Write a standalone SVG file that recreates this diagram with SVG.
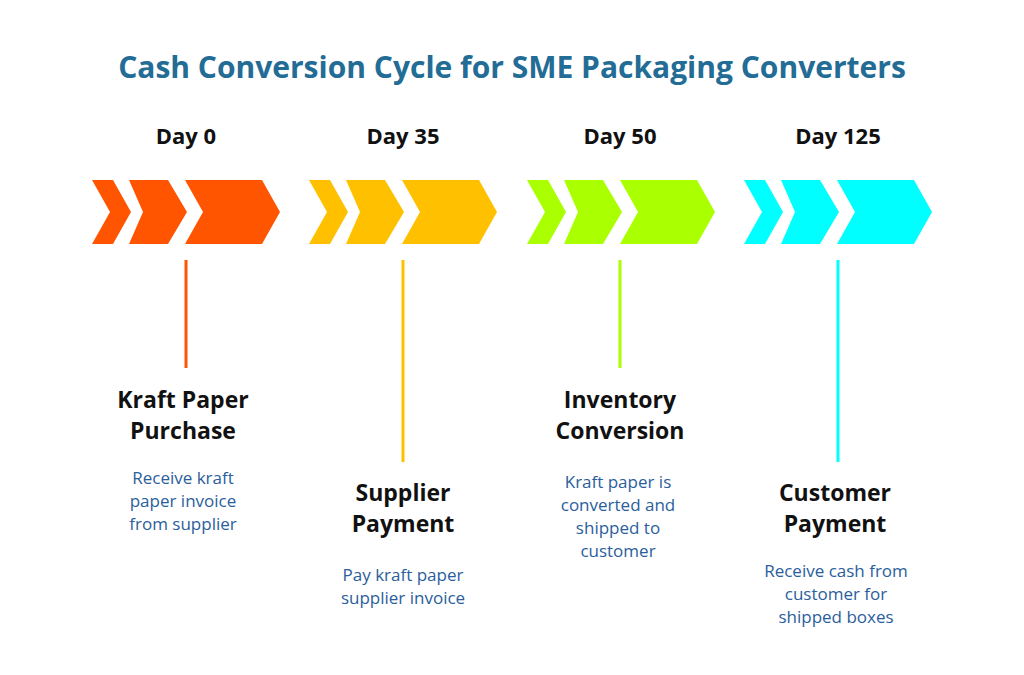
<svg xmlns="http://www.w3.org/2000/svg" width="1024" height="675" viewBox="0 0 1024 675">
<defs>
<style>
.t{font-family:"Open Sans","Liberation Sans",sans-serif;font-weight:700;text-anchor:middle}
.title{font-size:30px;fill:#236c96}
.day{font-size:22px;fill:#111}
.h{font-size:23px;fill:#111}
.d{font-family:"Open Sans","Liberation Sans",sans-serif;font-size:17px;fill:#2a5e9c;text-anchor:middle}
</style>
<g id="chev">
<polygon points="0,0 21,0 39,32 21,64 0,64 18,32"/>
<polygon points="37,0 76,0 95,32 76,64 37,64 51,32"/>
<polygon points="93,0 170,0 188,32 170,64 93,64 111,32"/>
</g>
</defs>
<rect width="1024" height="675" fill="#fff"/>
<text class="t title" x="512" y="78">Cash Conversion Cycle for SME Packaging Converters</text>
<g id="n1">
<text class="t day" x="186" y="144">Day 0</text>
<use href="#chev" x="92" y="180" fill="#ff5500"/>
<text class="t h" x="183" y="408">Kraft Paper</text>
<text class="t h" x="183" y="439">Purchase</text>
<text class="d" x="183" y="484">Receive kraft</text>
<text class="d" x="183" y="507">paper invoice</text>
<text class="d" x="183" y="530">from supplier</text>
</g>
<g id="n2">
<text class="t day" x="403" y="144">Day 35</text>
<use href="#chev" x="309" y="180" fill="#ffc000"/>
<text class="t h" x="403" y="501">Supplier</text>
<text class="t h" x="403" y="532">Payment</text>
<text class="d" x="403" y="581">Pay kraft paper</text>
<text class="d" x="403" y="604">supplier invoice</text>
</g>
<g id="n3">
<text class="t day" x="620" y="144">Day 50</text>
<use href="#chev" x="527" y="180" fill="#aaff00"/>
<text class="t h" x="620" y="408">Inventory</text>
<text class="t h" x="620" y="439">Conversion</text>
<text class="d" x="618" y="488">Kraft paper is</text>
<text class="d" x="618" y="511">converted and</text>
<text class="d" x="618" y="534">shipped to</text>
<text class="d" x="618" y="557">customer</text>
</g>
<g id="n4">
<text class="t day" x="838" y="144">Day 125</text>
<use href="#chev" x="744" y="180" fill="#00ffff"/>
<text class="t h" x="835" y="501">Customer</text>
<text class="t h" x="835" y="532">Payment</text>
<text class="d" x="836" y="577">Receive cash from</text>
<text class="d" x="836" y="600">customer for</text>
<text class="d" x="836" y="623">shipped boxes</text>
</g>
<g id="connectors" stroke-width="3">
<line x1="186" y1="260" x2="186" y2="368" stroke="#ff5500"/>
<line x1="403" y1="260" x2="403" y2="462" stroke="#ffc000"/>
<line x1="620" y1="260" x2="620" y2="368" stroke="#aaff00"/>
<line x1="838" y1="260" x2="838" y2="462" stroke="#00ffff"/>
</g>
</svg>
